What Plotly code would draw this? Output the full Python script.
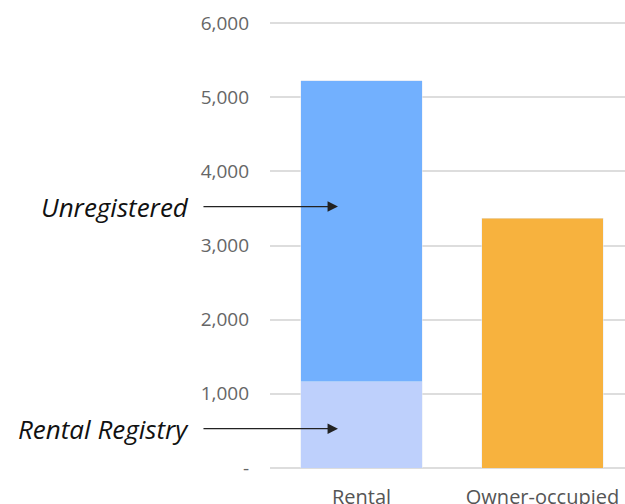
import plotly.graph_objects as go

categories = ["Rental", "Owner-occupied"]
registered = [1160, 0]
unregistered = [4060, 0]
owner = [0, 3365]
tick_vals = [0, 1000, 2000, 3000, 4000, 5000, 6000]
tick_text = ["-", "1,000", "2,000", "3,000", "4,000", "5,000", "6,000"]

FONT = "Open Sans"

fig = go.Figure()
fig.add_bar(x=categories, y=registered, marker_color="#bed0fc", width=0.67, hoverinfo="skip")
fig.add_bar(x=categories, y=unregistered, marker_color="#72b0fe", width=0.67, hoverinfo="skip")
fig.add_bar(x=categories, y=owner, marker_color="#f7b23e", width=0.67, hoverinfo="skip")

arrow_y = [3525, 530]
labels = ["Unregistered", "Rental Registry"]
for lab, yv in zip(labels, arrow_y):
    fig.add_annotation(x=-0.13, y=yv, xref="x", yref="y", ax=-136, ay=0,
                       axref="pixel", ayref="pixel", text="", showarrow=True,
                       arrowhead=2, arrowsize=1.6, arrowwidth=1.3, arrowcolor="#222")
    fig.add_annotation(x=-0.2225, y=yv, xref="paper", yref="y", text="<i>" + lab + "</i>",
                       showarrow=False, xanchor="right", yanchor="middle",
                       font=dict(family=FONT, size=26, color="#111"))

fig.update_layout(
    barmode="stack", width=625, height=504, showlegend=False,
    margin=dict(l=270, r=0, t=21, b=36),
    plot_bgcolor="white", paper_bgcolor="white",
    font=dict(family=FONT, color="#555"),
)
fig.update_xaxes(range=[-0.5055, 1.4558], showgrid=False, showline=False, ticks="",
                 tickfont=dict(size=20, color="#555"), ticklabelstandoff=15,
                 automargin=False, fixedrange=True)
fig.update_yaxes(range=[0, 6027], tickvals=tick_vals, ticktext=tick_text,
                 showgrid=True, gridcolor="#dddddd", gridwidth=1.5, zeroline=True,
                 zerolinecolor="#dddddd", zerolinewidth=1.5, ticklabelstandoff=20,
                 tickfont=dict(size=19, color="#666"), automargin=False, fixedrange=True)

fig.write_html("out.html", config={"displayModeBar": False})
